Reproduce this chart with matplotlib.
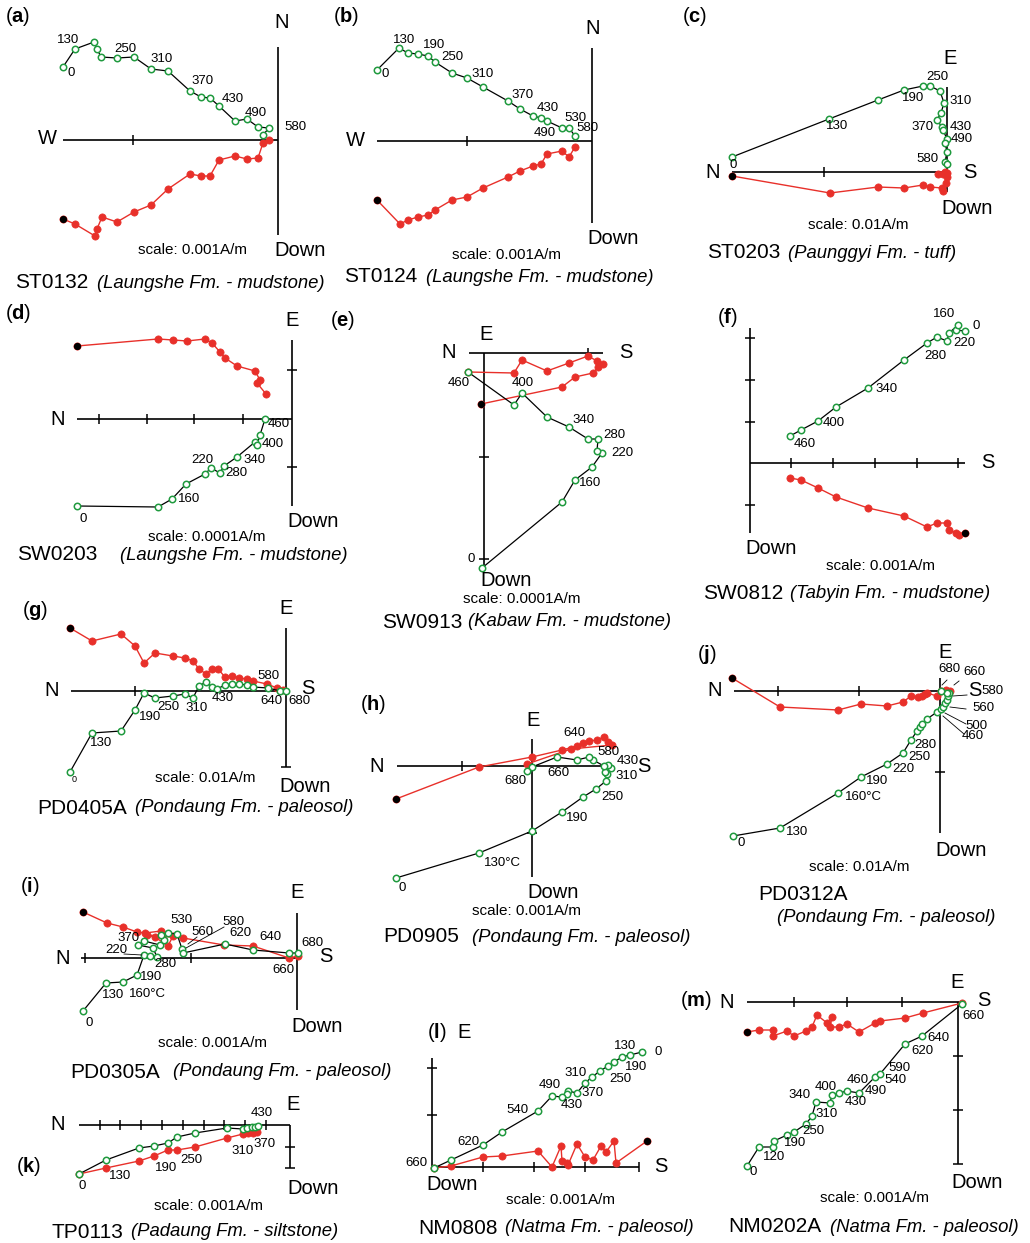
import matplotlib
matplotlib.use('Agg')
import matplotlib.pyplot as plt

plt.rcParams['font.family'] = ['Liberation Sans', 'DejaVu Sans']
plt.rcParams['mathtext.fontset'] = 'custom'
plt.rcParams['mathtext.rm'] = 'Liberation Sans'
plt.rcParams['mathtext.bf'] = 'Liberation Sans:bold'

W, H = 1030, 1243
GREEN = '#1f9a3e'
RED = '#e8302a'

# ---- data: horizontal projection (green, open) and vertical projection (red, filled)
# values are in diagram units, origin of each diagram at (0, 0)

a_gx = [-215, -203, -184, -181, -177, -161, -144, -127, -110, -88, -77, -68, -59, -43, -31, -20, -9, -15]
a_gy = [73, 91, 98, 91, 83, 82, 83, 71, 69, 49, 43, 42, 34, 19, 21, 13, 12, 5]
a_rx = [-215, -203, -183, -181, -176, -161, -144, -127, -110, -88, -77, -68, -59, -43, -31, -20, -15, -9]
a_ry = [-79, -84, -96, -89, -77, -82, -72, -65, -49, -34, -36, -36, -20, -16, -19, -18, -3, 0]
a_lab = [('0', -207, 67), ('130', -210, 100), ('250', -153, 91), ('310', -116, 81),
         ('370', -75, 59), ('430', -45, 41), ('490', -22, 27), ('580', 17, 13)]

b_gx = [-215, -193, -184, -174, -164, -157, -140, -125, -109, -84, -72, -59, -51, -45, -30, -23, -17]
b_gy = [71, 93, 88, 87, 85, 79, 68, 63, 54, 40, 32, 25, 23, 20, 13, 13, 5]
b_rx = [-215, -192, -184, -174, -164, -157, -140, -125, -109, -84, -72, -59, -51, -45, -30, -23, -17]
b_ry = [-59, -83, -79, -76, -74, -69, -59, -56, -47, -36, -30, -25, -23, -13, -10, -16, -6]
b_lab = [('0', -207, 67), ('130', -188, 101), ('190', -158, 96), ('250', -140, 84), ('310', -109, 67),
         ('370', -69, 46), ('430', -44, 33), ('530', -17, 23), ('490', -47, 8), ('580', -5, 13)]

c_gx = [-215, -118, -69, -43, -24, -17, -7, -3, -6, -10, -5, -4, 0, -2, 0, -2, 0]
c_gy = [15, 53, 72, 82, 86, 86, 81, 69, 59, 52, 45, 42, 33, 29, 20, 10, 8]
c_rx = [-215, -117, -69, -43, -24, -17, -5, -4, -1, 0, -4, -9, 0, -2]
c_ry = [-4, -21, -15, -16, -13, -15, -16, -19, -11, -5, -2, -2, -1, 0]
c_lab = [('0', -214, 7), ('130', -110, 46), ('190', -34, 74), ('250', -10, 95), ('310', 14, 71),
         ('370', -24, 45), ('430', 14, 45), ('490', 15, 33), ('580', -20, 13)]

d_gx = [-215, -134, -120, -106, -87, -81, -72, -68, -55, -37, -35, -32, -27]
d_gy = [-87, -88, -80, -65, -55, -49, -54, -47, -38, -23, -26, -16, 0]
d_rx = [-215, -134, -119, -105, -87, -80, -72, -67, -55, -37, -32, -35, -26]
d_ry = [73, 80, 79, 78, 80, 76, 67, 61, 53, 48, 39, 36, 25]
d_lab = [('0', -209, -100), ('160', -103, -80), ('220', -90, -41), ('280', -56, -54),
         ('340', -37, -41), ('400', -19, -25), ('460', -13, -5)]

e_gx = [-2, 78, 91, 108, 118, 113, 114, 104, 85, 63, 38, 30, -16]
e_gy = [-215, -149, -127, -114, -100, -98, -86, -86, -74, -64, -40, -52, -19]
e_rx = [-3, 78, 91, 109, 114, 119, 113, 104, 85, 63, 38, 30, -16]
e_ry = [-51, -34, -24, -20, -14, -11, -8, -3, -10, -18, -7, -20, -19]
e_lab = [('0', -13, -206), ('160', 106, -130), ('220', 138, -100), ('280', 130, -82),
         ('340', 100, -67), ('400', 39, -30), ('460', -25, -30)]

f_gx = [215, 206, 208, 199, 197, 187, 177, 154, 118, 86, 68, 51, 40]
f_gy = [132, 133, 138, 130, 122, 126, 120, 103, 75, 56, 42, 33, 27]
f_rx = [215, 209, 206, 199, 197, 187, 177, 154, 118, 86, 68, 51, 40]
f_ry = [-70, -72, -70, -67, -60, -60, -64, -53, -45, -34, -25, -17, -15]
f_lab = [('160', 194, 149), ('0', 226, 137), ('220', 214, 120), ('280', 185, 107),
         ('340', 137, 74), ('400', 84, 40), ('460', 55, 19)]

g_gx = [-216, -194, -165, -151, -142, -131, -113, -101, -93, -87, -80, -74, -69, -61, -54, -47, -39, -33, -18, -6, 0]
g_gy = [-81, -42, -40, -19, -2, -7, -5, -3, -7, 5, 9, 4, 2, 6, 7, 7, 6, 4, 3, 0, 0]
g_rx = [-216, -194, -165, -151, -142, -131, -113, -101, -93, -87, -80, -74, -68, -61, -54, -47, -39, -33, -19, -9, -3]
g_ry = [63, 50, 57, 45, 28, 38, 35, 33, 30, 22, 17, 22, 22, 14, 15, 13, 12, 10, 7, 3, 1]
g_lab = [('130', -185, -52), ('190', -136, -26), ('250', -118, -16), ('310', -89, -17),
         ('430', -63, -7), ('580', -18, 15), ('640', -15, -10), ('680', 13, -10)]

h_gx = [-136, -53, 0, 30, 51, 64, 74, 75, 73, 79, 76, 72, 61, 57, 45, 25, 0, -5]
h_gy = [-112, -87, -65, -46, -31, -23, -15, -8, -6, -2, 1, 0, 6, 9, 6, 9, -1, -5]
h_rx = [-136, -53, 0, 30, 45, 51, 57, 65, 72, 76, 80, 39, -5]
h_ry = [-33, -1, 9, 16, 20, 23, 25, 26, 29, 24, 21, 17, 2]
h_lab = [('0', -130, -122), ('130°C', -30, -97), ('190', 45, -52), ('250', 80, -31), ('310', 95, -10),
         ('430', 96, 5), ('580', 76, 14), ('640', 42, 33), ('660', 26, -7), ('680', -17, -15)]

i_gx = [-214, -191, -174, -160, -153, -147, -140, -144, -159, -153, -137, -133, -136, -129, -120, -115, -114, -72, -44, -8, 1]
i_gy = [-53, -25, -24, -17, 3, 2, 1, 10, 13, 17, 13, 18, 23, 25, 24, 9, 5, 14, 8, 5, 5]
i_rx = [-214, -190, -174, -160, -152, -136, -124, -129, -142, -150, -114, -73, -44, -8, 1]
i_ry = [46, 35, 31, 26, 25, 27, 22, 12, 21, 23, 20, 13, 12, 0, 2]
i_lab = [('0', -208, -65), ('130', -184, -37), ('160°C', -150, -36), ('190', -146, -19), ('280', -132, -6),
         ('220', -181, 8), ('370', -168, 20), ('530', -116, 38), ('560', -95, 26), ('580', -64, 36),
         ('620', -57, 25), ('640', -27, 21), ('680', 15, 15), ('660', -14, -12)]

j_gx = [-207, -160, -102, -79, -53, -37, -29, -23, -20, -18, -13, -3, 1, 3, 5, 7, 8, 9, 7, 1]
j_gy = [-145, -137, -102, -86, -73, -62, -49, -40, -36, -33, -28, -21, -18, -16, -12, -9, -5, -2, -2, 0]
j_rx = [-208, -160, -102, -79, -53, -37, -29, -22, -18, -15, -13, -3, 6, 10, 1]
j_ry = [13, -16, -19, -13, -15, -11, -5, -6, -5, -3, -2, -5, 1, 0, 0]
j_lab = [('0', -199, -152), ('130', -143, -141), ('160°C', -77, -106), ('190', -63, -90), ('220', -37, -78),
         ('250', -21, -66), ('280', -15, -54), ('460', 33, -45), ('500', 36, -35), ('560', 43, -17),
         ('580', 52, 0), ('660', 34, 19), ('680', 9, 22)]

k_gx = [-211, -184, -151, -136, -122, -113, -95, -63, -47, -43, -38, -35, -32]
k_gy = [-49, -35, -23, -21, -18, -12, -8, -3, -4, -3, -2, -2, -1]
k_rx = [-211, -184, -151, -136, -122, -113, -95, -63, -47, -42, -37, -33]
k_ry = [-49, -43, -36, -31, -25, -25, -22, -13, -9, -8, -8, -7]
k_lab = [('0', -208, -61), ('130', -170, -51), ('190', -124, -43), ('250', -99, -35),
         ('310', -47, -26), ('370', -25, -19), ('430', -28, 12)]

l_gx = [210, 198, 190, 182, 176, 168, 160, 153, 145, 136, 135, 130, 120, 106, 70, 51, 19, 2]
l_gy = [115, 112, 110, 105, 101, 96, 90, 84, 74, 76, 73, 70, 71, 56, 35, 22, 7, -1]
l_rx = [215, 184, 182, 174, 169, 161, 153, 145, 136, 135, 130, 129, 120, 106, 70, 51, 19, 2]
l_ry = [26, 4, 26, 15, 21, 7, 10, 23, 2, 4, 6, 21, 0, 16, 11, 10, 1, -1]
l_lab = [('0', 226, 115), ('130', 193, 121), ('190', 204, 100), ('250', 188, 88), ('310', 144, 94),
         ('370', 161, 74), ('490', 118, 82), ('430', 140, 62), ('540', 85, 57), ('620', 36, 25), ('660', -16, 4)]

m_gx = [-211, -199, -185, -184, -171, -164, -152, -146, -142, -128, -126, -119, -111, -99, -83, -78, -53, -36, 4]
m_gy = [-164, -145, -145, -139, -133, -130, -122, -114, -100, -101, -93, -91, -89, -91, -75, -72, -42, -34, -2]
m_rx = [-211, -199, -185, -185, -171, -164, -152, -146, -141, -131, -126, -128, -119, -111, -99, -83, -78, -53, -35, 4]
m_ry = [-30, -28, -28, -34, -29, -34, -29, -25, -13, -21, -15, -25, -25, -22, -30, -21, -19, -16, -11, -1]
m_lab = [('0', -205, -170), ('120', -184, -155), ('190', -163, -141), ('250', -145, -129), ('310', -131, -112),
         ('340', -158, -93), ('400', -132, -85), ('430', -102, -100), ('460', -100, -78), ('490', -82, -89),
         ('540', -63, -78), ('590', -59, -66), ('620', -36, -49), ('640', -20, -36), ('660', 15, -14)]

names = ['ST0132', 'ST0124', 'ST0203', 'SW0203', 'SW0913', 'SW0812', 'PD0405A',
         'PD0905', 'PD0305A', 'PD0312A', 'TP0113', 'NM0808', 'NM0202A']
units = ['(Laungshe Fm. - mudstone)', '(Laungshe Fm. - mudstone)', '(Paunggyi Fm. - tuff)',
         '(Laungshe Fm. - mudstone)', '(Kabaw Fm. - mudstone)', '(Tabyin Fm. - mudstone)',
         '(Pondaung Fm. - paleosol)', '(Pondaung Fm. - paleosol)', '(Pondaung Fm. - paleosol)',
         '(Pondaung Fm. - paleosol)', '(Padaung Fm. - siltstone)', '(Natma Fm. - paleosol)',
         '(Natma Fm. - paleosol)']
scales = ['0.001', '0.001', '0.01', '0.0001', '0.0001', '0.001', '0.01',
          '0.001', '0.001', '0.01', '0.001', '0.001', '0.001']

fig = plt.figure(figsize=(W / 100, H / 100), dpi=100)


def ftext(x, y, s, **kw):
    # position given in image pixels (y down)
    fig.text(x / W, 1 - y / H, s, **kw)


def diagram(letter, ox, oy, gx, gy, rx, ry, labs, hx, vy, hticks=(), vticks=(),
            axlabels=(), black=True):
    ax = fig.add_axes([0, 0, 1, 1], label=letter)
    ax.set_xlim(-ox, W - ox)
    ax.set_ylim(oy - H, oy)
    ax.axis('off')
    ax.plot(hx, [0, 0], color='k', lw=1.2, solid_capstyle='butt')
    ax.plot([0, 0], vy, color='k', lw=1.2, solid_capstyle='butt')
    ax.plot(list(hticks), [0] * len(hticks), ls='none', marker='|', ms=7, mew=1.1, color='k')
    ax.plot([0] * len(vticks), list(vticks), ls='none', marker='_', ms=7, mew=1.1, color='k')
    ax.plot(rx, ry, color=RED, lw=1.0, marker='o', ms=5.2, mfc=RED, mec=RED, mew=0.5)
    if black:
        ax.plot(rx[:1], ry[:1], ls='none', marker='o', ms=4.2, color='k')
    ax.plot(gx, gy, color='k', lw=0.9, marker='o', ms=4.6, mfc='white', mec=GREEN, mew=1.1)
    for s, x, y in labs:
        ax.text(x, y, s, ha='center', va='center', fontsize=9.5)
    for s, x, y in axlabels:
        ax.text(x, y, s, ha='center', va='center', fontsize=14.5)
    return ax


def caption(i, letter, lx, ly, sx, sy, nx, ny, ix, iy):
    ftext(lx, ly, r'($\bf{%s}$)' % letter, fontsize=14.5, ha='left', va='center')
    ftext(sx, sy, 'scale: %sA/m' % scales[i], fontsize=11, ha='center', va='center')
    ftext(nx, ny, names[i], fontsize=15, ha='left', va='center')
    ftext(ix, iy, units[i], fontsize=13.3, style='italic', ha='left', va='center')


# (a)
diagram('a', 278, 140, a_gx, a_gy, a_rx, a_ry, a_lab, (-215, 0), (93, -95), [-145], [],
        [('N', 4, 118), ('W', -231, 1), ('Down', 22, -110)])
caption(0, 'a', 5, 17, 192, 250, 15, 283, 97, 283)

# (b)
diagram('b', 592, 141, b_gx, b_gy, b_rx, b_ry, b_lab, (-215, 0), (93, -82), [-125], [],
        [('N', 1, 112), ('W', -237, 1), ('Down', 21, -97)])
caption(1, 'b', 333, 17, 507, 255, 344, 277, 426, 277)

# (c)
diagram('c', 947, 172, c_gx, c_gy, c_rx, c_ry, c_lab, (-215, 0), (85, -20), [-123], [],
        [('N', -234, 0), ('S', 23, 0), ('E', 3, 114), ('Down', 20, -36)])
caption(2, 'c', 682, 17, 858, 225, 707, 253, 788, 253)

# (d)
diagram('d', 292, 419, d_gx, d_gy, d_rx, d_ry, d_lab, (-215, 0), (79, -87),
        [-193, -145, -98, -49], [49, -48],
        [('N', -234, 0), ('E', 0, 99), ('Down', 21, -102)])
caption(3, 'd', 5, 314, 207, 537, 17, 555, 120, 555)

# (e)
diagram('e', 484, 353, e_gx, e_gy, e_rx, e_ry, e_lab, (-15, 119), (0, -214), [104], [-104, -206],
        [('N', -35, 0), ('S', 142, 0), ('E', 2, 19), ('Down', 22, -228)])
caption(4, 'e', 330, 320, 522, 599, 382, 622, 468, 622)

# (f)
diagram('f', 750, 463, f_gx, f_gy, f_rx, f_ry, f_lab, (0, 215), (135, -70),
        [41, 83, 125, 167, 208], [125, 83, 41, -42],
        [('S', 238, 0), ('Down', 21, -86)])
caption(5, 'f', 717, 318, 880, 566, 703, 593, 790, 593)

# (g)
ax_g = diagram('g', 286, 691, g_gx, g_gy, g_rx, g_ry, g_lab, (-215, 0), (63, -76), [-151], [-76],
               [('N', -234, 0), ('S', 22, 3), ('E', 0, 83), ('Down', 19, -96)])
ax_g.text(-212, -89, '0', ha='center', va='center', fontsize=6.5)
caption(6, 'g', 22, 610, 205, 778, 37, 808, 135, 808)

# (h)
diagram('h', 532, 766, h_gx, h_gy, h_rx, h_ry, h_lab, (-135, 71), (27, -111), [-70], [-67],
        [('N', -155, 0), ('S', 112, 0), ('E', 1, 46), ('Down', 21, -127)])
caption(7, 'h', 360, 705, 527, 911, 383, 937, 472, 937)

# (i)
ax_i = diagram('i', 297, 958, i_gx, i_gy, i_rx, i_ry, i_lab, (-216, 0), (45, -52), [-212, -106], [],
               [('N', -234, 0), ('S', 29, 1), ('E', 0, 65), ('Down', 20, -68)])
for (x0, y0), (x1, y1) in [((-173, 4), (-155, 3)), ((-109, 14), (-100, 21)), ((-73, 31), (-111, 10))]:
    ax_i.plot([x0, x1], [y0, y1], color='k', lw=0.6)
caption(8, 'i', 20, 886, 213, 1043, 70, 1072, 173, 1072)

# (j)
ax_j = diagram('j', 940, 691, j_gx, j_gy, j_rx, j_ry, j_lab, (-206, 0), (13, -142), [-162, -81], [-81],
               [('N', -225, 0), ('E', 5, 38), ('S', 35, 1), ('Down', 21, -159)])
for (x0, y0), (x1, y1) in [((3, -25), (24, -43)), ((5, -22), (26, -33)), ((10, -16), (26, -18)),
                           ((13, -5), (27, -4)), ((14, 6), (19, 10)), ((2, 6), (7, 11))]:
    ax_j.plot([x0, x1], [y0, y1], color='k', lw=0.6)
caption(9, 'j', 697, 655, 859, 867, 758, 895, 777, 918)

# (k)
diagram('k', 290, 1125, k_gx, k_gy, k_rx, k_ry, k_lab, (-211, 0), (0, -43),
        [-190, -170, -149, -128, -107, -86, -66, -45, -24], [-22, -43],
        [('N', -232, 0), ('E', 3, 21), ('Down', 23, -63)], black=False)
caption(10, 'k', 16, 1166, 208, 1206, 51, 1232, 131, 1232)

# (l)
diagram('l', 432, 1167, l_gx, l_gy, l_rx, l_ry, l_lab, (0, 207), (109, 0), [51, 102, 153, 207], [52, 99],
        [('S', 229, 0), ('Down', 20, -17), ('E', 32, 134)])
caption(11, 'l', 427, 1033, 561, 1200, 418, 1228, 505, 1228)

# (m)
diagram('m', 958, 1002, m_gx, m_gy, m_rx, m_ry, m_lab, (-211, 2), (0, -162),
        [-164, -111, -56], [-54, -108, -162],
        [('N', -231, 0), ('E', -1, 19), ('S', 26, 2), ('Down', 19, -180)])
caption(12, 'm', 680, 1000, 875, 1198, 728, 1227, 830, 1227)

fig.savefig('out.png', dpi=100)
